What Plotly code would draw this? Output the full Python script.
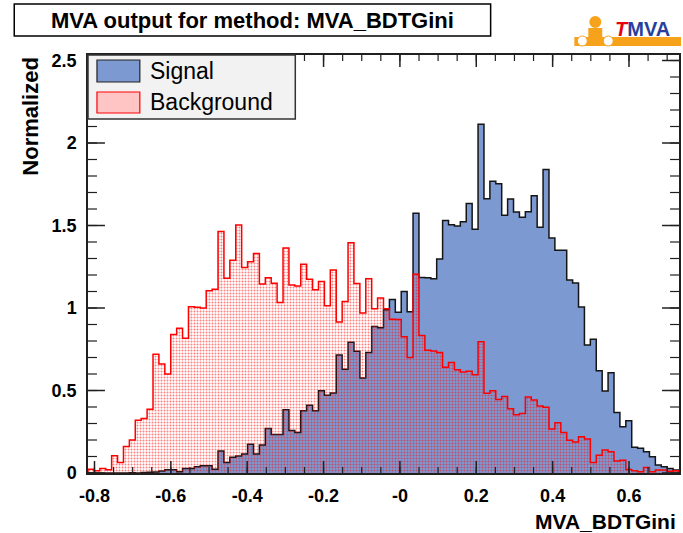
import numpy as np
import plotly.graph_objects as go

# ---------------- data ----------------
x_min, x_max = -0.817, 0.731
n_bins = 100

signal = [
    0, 0, 0, 0, 0, 0, 0, 0.002, 0, 0.003,
    0.004, 0.006, 0.012, 0.02, 0.02, 0.008, 0.028, 0.028, 0.038, 0.044,
    0.044, 0.022, 0.134, 0.063, 0.095, 0.103, 0.115, 0.174, 0.115, 0.17,
    0.27, 0.233, 0.234, 0.384, 0.258, 0.245, 0.378, 0.411, 0.378, 0.498,
    0.471, 0.485, 0.715, 0.629, 0.793, 0.738, 0.576, 0.731, 0.888, 0.88,
    0.99, 1.052, 0.974, 1.10, 0.978, 1.574, 1.185, 1.184, 1.178, 1.297,
    1.53, 1.505, 1.497, 1.523, 1.634, 1.477, 2.113, 1.662, 1.768, 1.753,
    1.562, 1.66, 1.582, 1.55, 1.584, 1.68, 1.49, 1.84, 1.425, 1.35,
    1.35, 1.17, 1.152, 1.006, 0.776, 0.81, 0.619, 0.497, 0.608, 0.366,
    0.28, 0.317, 0.156, 0.15, 0.129, 0.099, 0.048, 0.038, 0.028, 0.018,
]

background = [
    0.022, 0.014, 0.028, 0.02, 0.105, 0.063, 0.16, 0.20, 0.32, 0.33,
    0.386, 0.72, 0.66, 0.60, 0.84, 0.877, 0.816, 1.008, 1.004, 1.0,
    1.105, 1.113, 1.463, 1.18, 1.29, 1.503, 1.246, 1.28, 1.331, 1.145,
    1.184, 1.15, 1.034, 1.364, 1.14, 1.133, 1.265, 1.174, 1.11, 1.16,
    1.013, 1.23, 0.915, 1.04, 1.396, 1.149, 0.969, 1.178, 0.995, 1.06,
    0.996, 0.932, 0.931, 0.826, 0.70, 1.205, 0.834, 0.744, 0.74, 0.73,
    0.641, 0.67, 0.626, 0.612, 0.616, 0.596, 0.796, 0.483, 0.498, 0.446,
    0.463, 0.39, 0.353, 0.361, 0.461, 0.442, 0.406, 0.398, 0.267, 0.305,
    0.245, 0.198, 0.188, 0.22, 0.206, 0.064, 0.107, 0.139, 0.129, 0.072,
    0.077, 0.021, 0.013, 0.008, 0.034, 0.008, 0.018, 0.018, 0.01, 0.014,
]

x_tick_vals = [-0.8, -0.6, -0.4, -0.2, 0.0, 0.2, 0.4, 0.6]
x_tick_text = ["-0.8", "-0.6", "-0.4", "-0.2", "-0", "0.2", "0.4", "0.6"]
x_minor_vals = [round(-0.8 + 0.05 * i, 2) for i in range(31)]
y_tick_vals = [0, 0.5, 1, 1.5, 2, 2.5]
y_tick_text = ["0", "0.5", "1", "1.5", "2", "2.5"]
y_minor_vals = [round(0.1 * i, 1) for i in range(26)]

title_text = "MVA output for method: MVA_BDTGini"
x_title = "MVA_BDTGini"
y_title = "Normalized"
legend_labels = ["Signal", "Background"]

# ---------------- layout helpers ----------------
W, H = 683, 533
L, R, T, B = 88, 2, 55, 60
PW, PH = W - L - R, H - T - B
y_max = PH / 165.0
x_per_px = (x_max - x_min) / PW
y_per_px = y_max / PH


def px(x):
    return (x - L) / PW


def py(y):
    return (H - B - y) / PH


edges = np.linspace(x_min, x_max, n_bins + 1)


def step_xy(vals):
    xs = np.concatenate([[edges[0]], edges, [edges[-1]]])
    ys = np.concatenate([[0.0], vals, [vals[-1]], [0.0]])
    return xs, ys


FONT = "Liberation Sans, Arial, Helvetica, sans-serif"
AXC = "#202020"

fig = go.Figure()

sx, sy = step_xy(np.array(signal))
fig.add_trace(go.Scatter(
    x=sx, y=sy, mode="lines", line_shape="hv",
    line=dict(color="#151515", width=1.5),
    fill="tozeroy", fillcolor="#7d99d1",
    name=legend_labels[0], showlegend=False, hoverinfo="skip",
))

bx, by = step_xy(np.array(background))
fig.add_trace(go.Scatter(
    x=bx, y=by, mode="lines", line_shape="hv",
    line=dict(color="#ff0000", width=1.5),
    fill="tozeroy", fillcolor="rgba(255,0,0,0.10)",
    fillpattern=dict(shape=".", fgcolor="#ff0000", bgcolor="rgba(0,0,0,0)",
                     size=3, solidity=0.35, fillmode="overlay"),
    name=legend_labels[1], showlegend=False, hoverinfo="skip",
))


# tick marks drawn inside the frame on all four sides
def tick_segments(vals, len_px, axis):
    xs, ys = [], []
    for v in vals:
        if axis == "x":
            d = len_px * y_per_px
            xs += [v, v, None, v, v, None]
            ys += [0, d, None, y_max, y_max - d, None]
        else:
            d = len_px * x_per_px
            xs += [x_min, x_min + d, None, x_max, x_max - d, None]
            ys += [v, v, None, v, v, None]
    return xs, ys


for vals, ln, ax, wd in [(x_minor_vals, 6, "x", 1.2), (x_tick_vals, 12, "x", 1.5),
                         (y_minor_vals, 9, "y", 1.2), (y_tick_vals, 17, "y", 1.5)]:
    tx, ty = tick_segments(vals, ln, ax)
    fig.add_trace(go.Scatter(x=tx, y=ty, mode="lines",
                             line=dict(color=AXC, width=wd),
                             showlegend=False, hoverinfo="skip",
                             cliponaxis=False))

fig.update_layout(
    width=W, height=H,
    margin=dict(l=L, r=R, t=T, b=B, pad=0),
    paper_bgcolor="white", plot_bgcolor="white",
    showlegend=False,
    font=dict(family=FONT, color="black"),
    xaxis=dict(
        range=[x_min, x_max], showgrid=False, zeroline=False,
        showline=True, linecolor=AXC, linewidth=1.5, mirror=True,
        ticks="", tickmode="array", tickvals=x_tick_vals, ticktext=x_tick_text,
        tickfont=dict(size=18, family=FONT, weight="bold"),
        ticklabelstandoff=6,
    ),
    yaxis=dict(
        range=[0, y_max], showgrid=False, zeroline=False,
        showline=True, linecolor=AXC, linewidth=1.5, mirror=True,
        ticks="", tickmode="array", tickvals=y_tick_vals, ticktext=y_tick_text,
        tickfont=dict(size=18, family=FONT, weight="bold"),
        ticklabelstandoff=6,
    ),
)

shapes = []
annotations = []

# title box
shapes.append(dict(type="rect", xref="paper", yref="paper",
                   x0=px(14), x1=px(492), y0=py(36), y1=py(4),
                   line=dict(color="black", width=1.5), fillcolor="white",
                   layer="above"))
annotations.append(dict(xref="paper", yref="paper", x=px(253), y=py(20),
                        text=title_text, showarrow=False,
                        font=dict(size=22, family=FONT, weight="bold"),
                        xanchor="center", yanchor="middle"))

# legend box
shapes.append(dict(type="rect", xref="paper", yref="paper",
                   x0=px(88), x1=px(296), y0=py(119), y1=py(55),
                   line=dict(color="#333333", width=1.5), fillcolor="#f2f2f2",
                   layer="above"))
shapes.append(dict(type="rect", xref="paper", yref="paper",
                   x0=px(97), x1=px(140), y0=py(82), y1=py(60),
                   line=dict(color="#222222", width=1.2), fillcolor="#7d99d1",
                   layer="above"))
shapes.append(dict(type="rect", xref="paper", yref="paper",
                   x0=px(97), x1=px(140), y0=py(113), y1=py(92),
                   line=dict(color="#ff0000", width=1.2), fillcolor="#ffc4c4",
                   layer="above"))
annotations.append(dict(xref="paper", yref="paper", x=px(148), y=py(71),
                        text=legend_labels[0], showarrow=False,
                        font=dict(size=23, family=FONT),
                        xanchor="left", yanchor="middle"))
annotations.append(dict(xref="paper", yref="paper", x=px(148), y=py(102),
                        text=legend_labels[1], showarrow=False,
                        font=dict(size=23, family=FONT),
                        xanchor="left", yanchor="middle"))

# axis titles
annotations.append(dict(xref="paper", yref="paper", x=px(680), y=py(521),
                        text=x_title, showarrow=False,
                        font=dict(size=21, family=FONT, weight="bold"),
                        xanchor="right", yanchor="middle"))
annotations.append(dict(xref="paper", yref="paper", x=px(30), y=py(55),
                        text=y_title, showarrow=False, textangle=-90,
                        font=dict(size=22, family=FONT, weight="bold"),
                        xanchor="center", yanchor="top"))

# TMVA logo (approximation)
ORANGE = "#f7a21b"
shapes.append(dict(type="rect", xref="paper", yref="paper",
                   x0=px(576), x1=px(683), y0=py(46), y1=py(37),
                   line=dict(width=0), fillcolor=ORANGE, layer="above"))
shapes.append(dict(type="circle", xref="paper", yref="paper",
                   x0=px(591), x1=px(603), y0=py(28), y1=py(16),
                   line=dict(width=0), fillcolor=ORANGE, layer="above"))
shapes.append(dict(type="rect", xref="paper", yref="paper",
                   x0=px(590), x1=px(604), y0=py(37), y1=py(28),
                   line=dict(width=0), fillcolor=ORANGE, layer="above"))
for cx in (584, 610):
    shapes.append(dict(type="circle", xref="paper", yref="paper",
                       x0=px(cx - 5), x1=px(cx + 5), y0=py(46), y1=py(36),
                       line=dict(color=ORANGE, width=1), fillcolor="white",
                       layer="above"))
annotations.append(dict(xref="paper", yref="paper", x=px(615), y=py(29),
                        text="<i><span style='color:#e8000b'>T</span></i>"
                             "<span style='color:#2a3f9d'>MVA</span>",
                        showarrow=False,
                        font=dict(size=20, family=FONT, weight="bold"),
                        xanchor="left", yanchor="middle"))

fig.update_layout(shapes=shapes, annotations=annotations)

fig.write_html("out.html")
